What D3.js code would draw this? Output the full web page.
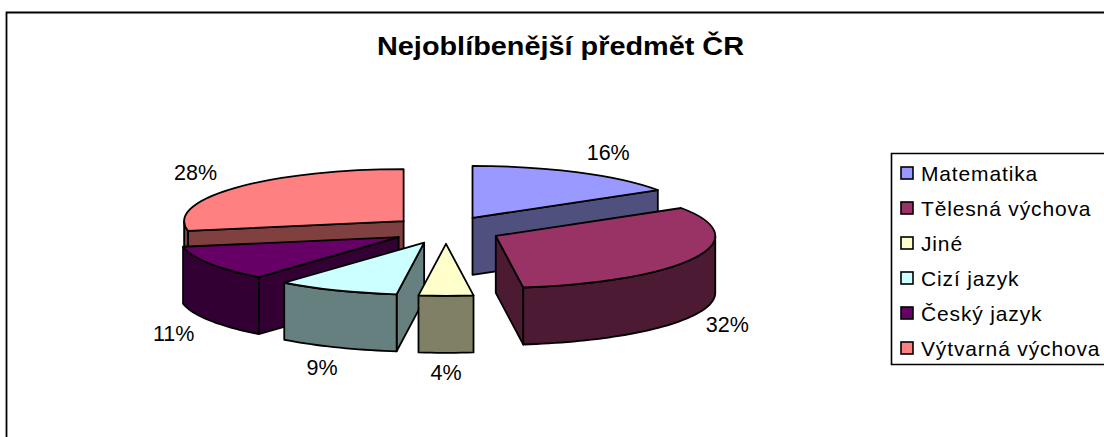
<!DOCTYPE html>
<html><head><meta charset="utf-8">
<script src="https://cdn.jsdelivr.net/npm/d3@7"></script>
<style>html,body{margin:0;padding:0;background:#fff}svg{display:block}text{font-family:"Liberation Sans",Arial,sans-serif;fill:#000}</style>
</head><body><div id="c"></div>
<script>
const categories = ["Matematika","Tělesná výchova","Jiné","Cizí jazyk","Český jazyk","Výtvarná výchova"];
const shares = [16,32,4,9,11,28];
const topColors = ["#9999FF","#993366","#FFFFCC","#CCFFFF","#660066","#FF8080"];
const sideColors = ["#50507F","#4D1A33","#808066","#668080","#330033","#804040"];
const paintOrder = [5,0,4,1,3,2];
const labelNudge = [[30,-20],[33,9],[0,19],[-15,20],[-36,12],[-39,-16]];

const W=1104,H=437, cx=446, cy=230, rx=219.5, tilt=0.237, depth=57, explode=55, explodeY=13.8;
const svg=d3.select("#c").append("svg").attr("width",W).attr("height",H);
svg.append("rect").attr("width",W).attr("height",H).attr("fill","#fff");
svg.append("path").attr("d",`M6.5,${H}V12.5H${W}`).attr("fill","none").attr("stroke","#000").attr("stroke-width",1.8);
svg.append("text").attr("x",560.5).attr("y",55).attr("text-anchor","middle")
  .attr("font-size",26).attr("font-weight","bold")
  .attr("textLength",367).attr("lengthAdjust","spacingAndGlyphs")
  .text("Nejoblíbenější předmět ČR");

const slices=d3.pie().sort(null).value(d=>d)(shares);
const arcTop=d3.arc().innerRadius(0).outerRadius(rx);
const g=svg.append("g");
const sw=1.8;

function pt(a,r){return [r*Math.sin(a),-r*tilt*Math.cos(a)];}
function rimPoints(a0,a1,dy){
  const n=Math.max(2,Math.ceil((a1-a0)/0.03));
  return d3.range(n+1).map(i=>{const a=a0+(a1-a0)*i/n,p=pt(a,rx);return [p[0],p[1]+dy];});
}
const line=d3.line();

paintOrder.forEach(i=>{
  const s=slices[i],mid=(s.startAngle+s.endAngle)/2;
  const ox=cx+explode*Math.sin(mid), oy=cy-explodeY*Math.cos(mid);
  const sl=g.append("g").attr("transform",`translate(${ox},${oy})`);
  const wall=a=>{
    const p=pt(a,rx);
    sl.append("path").attr("d",line([[0,0],p,[p[0],p[1]+depth],[0,depth]])+"Z")
      .attr("fill",sideColors[i]).attr("stroke","#000").attr("stroke-width",sw).attr("stroke-linejoin","round");
  };
  if(Math.sin(s.startAngle)<-1e-6) wall(s.startAngle);
  if(Math.sin(s.endAngle)>1e-6) wall(s.endAngle);
  const a0=Math.max(s.startAngle,Math.PI/2), a1=Math.min(s.endAngle,Math.PI*1.5);
  if(a1>a0){
    const rim=rimPoints(a0,a1,0).concat(rimPoints(a0,a1,depth).reverse());
    sl.append("path").attr("d",line(rim)+"Z").attr("fill",sideColors[i])
      .attr("stroke","#000").attr("stroke-width",sw).attr("stroke-linejoin","round");
  }
  sl.append("path").attr("transform",`scale(1,${tilt})`)
    .attr("d",arcTop(s)).attr("fill",topColors[i]).attr("stroke","#000")
    .attr("stroke-width",sw).attr("vector-effect","non-scaling-stroke").attr("stroke-linejoin","round");
});

slices.forEach((s,i)=>{
  const mid=(s.startAngle+s.endAngle)/2;
  const ox=cx+explode*Math.sin(mid), oy=cy-explodeY*Math.cos(mid);
  const p=pt(mid,rx), front=Math.cos(mid)<0&&Math.abs(Math.sin(mid))<0.9||i===1||i===4;
  svg.append("text").attr("text-anchor","middle").attr("font-size",21.5)
    .attr("x",ox+p[0]+labelNudge[i][0]).attr("y",oy+p[1]+(front?depth:0)+labelNudge[i][1]+8)
    .text(shares[i]+"%");
});

const ly=d3.scalePoint().domain(categories).range([173,348]);
svg.append("path").attr("d",`M${W},153.5H891.5V364.5H${W}`).attr("fill","#fff").attr("stroke","#000").attr("stroke-width",1.6);
categories.forEach((c,i)=>{
  svg.append("rect").attr("x",901).attr("y",ly(c)-6).attr("width",12).attr("height",12)
    .attr("fill",topColors[i]).attr("stroke","#000").attr("stroke-width",1.6);
  svg.append("text").attr("x",921).attr("y",ly(c)+7.5).attr("font-size",21).attr("letter-spacing",0.85).text(c);
});
</script></body></html>
